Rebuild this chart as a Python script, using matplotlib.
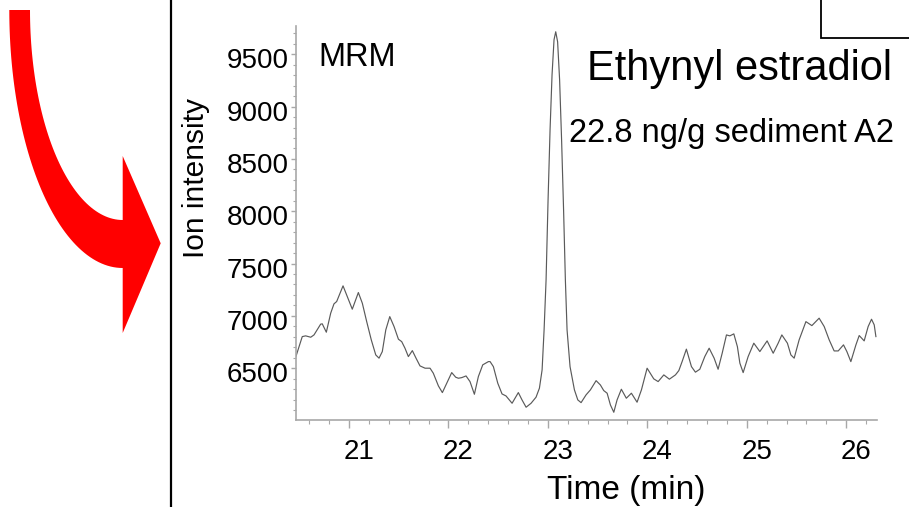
"""Recreate MRM chromatogram for ethynyl estradiol."""

import numpy as np
import matplotlib

matplotlib.use("Agg")
import matplotlib.pyplot as plt
from matplotlib.patches import Polygon, Rectangle
from matplotlib.ticker import MultipleLocator
from matplotlib.transforms import ScaledTranslation

# retention time (min) and ion intensity
time_min = [
    20.464, 20.530, 20.564, 20.615, 20.648, 20.715, 20.731, 20.772, 20.816, 20.849,
    20.876, 20.940, 20.983, 21.033, 21.094, 21.134, 21.178, 21.224, 21.269, 21.302,
    21.335, 21.370, 21.410, 21.453, 21.497, 21.530, 21.563, 21.597, 21.637, 21.674,
    21.714, 21.765, 21.815, 21.848, 21.899, 21.939, 21.983, 22.033, 22.073, 22.100,
    22.134, 22.177, 22.217, 22.261, 22.301, 22.345, 22.402, 22.419, 22.452, 22.496,
    22.539, 22.579, 22.640, 22.703, 22.740, 22.781, 22.831, 22.881, 22.915, 22.942,
    22.962, 22.982, 23.002, 23.022, 23.042, 23.062, 23.079, 23.098, 23.118, 23.138,
    23.158, 23.176, 23.193, 23.223, 23.267, 23.301, 23.334, 23.384, 23.428, 23.485,
    23.528, 23.562, 23.596, 23.629, 23.663, 23.696, 23.739, 23.789, 23.840, 23.897,
    23.941, 23.998, 24.065, 24.109, 24.166, 24.222, 24.283, 24.317, 24.350, 24.393,
    24.444, 24.484, 24.528, 24.578, 24.622, 24.672, 24.712, 24.753, 24.796, 24.830,
    24.870, 24.906, 24.931, 24.964, 25.014, 25.071, 25.132, 25.205, 25.266, 25.316,
    25.353, 25.409, 25.444, 25.477, 25.527, 25.595, 25.655, 25.728, 25.779, 25.829,
    25.879, 25.920, 25.973, 26.007, 26.047, 26.098, 26.131, 26.181, 26.221, 26.255,
    26.282, 26.299,
]
intensity = [
    6605, 6802, 6809, 6796, 6818, 6921, 6924, 6844, 7026, 7115,
    7137, 7287, 7184, 7064, 7223, 7121, 6945, 6771, 6627, 6596,
    6659, 6866, 6993, 6898, 6777, 6754, 6691, 6611, 6668, 6596,
    6522, 6500, 6500, 6452, 6331, 6267, 6357, 6458, 6414, 6404,
    6410, 6426, 6372, 6251, 6420, 6532, 6563, 6563, 6515, 6357,
    6254, 6235, 6165, 6267, 6197, 6127, 6165, 6223, 6309, 6484,
    6866, 7344, 8109, 8778, 9304, 9639, 9715, 9619, 9256, 8683,
    8013, 7344, 6866, 6515, 6293, 6197, 6171, 6245, 6293, 6381,
    6340, 6286, 6261, 6149, 6079, 6197, 6299, 6213, 6261, 6175,
    6293, 6500, 6398, 6372, 6436, 6395, 6436, 6477, 6563, 6682,
    6515, 6462, 6490, 6611, 6691, 6596, 6490, 6643, 6818, 6809,
    6828, 6706, 6548, 6458, 6611, 6739, 6659, 6761, 6643, 6739,
    6818, 6739, 6627, 6596, 6771, 6945, 6907, 6978, 6898, 6771,
    6665, 6665, 6723, 6659, 6563, 6723, 6812, 6761, 6898, 6968,
    6914, 6802,
]
x_ticks = [21, 22, 23, 24, 25, 26]
y_ticks = [6500, 7000, 7500, 8000, 8500, 9000, 9500]

FONT = ["Liberation Sans", "DejaVu Sans"]
AXIS_GREY = "#a8a8a8"

plt.rcParams.update({"font.family": FONT})

W, H = 909, 507
fig = plt.figure(figsize=(W / 100, H / 100), dpi=100)

# background layer in pixel coordinates for the decorations
deco = fig.add_axes([0, 0, 1, 1])
deco.set_xlim(0, W)
deco.set_ylim(H, 0)
deco.axis("off")

# curved red arrow
phi = np.linspace(0, np.pi / 2, 60)
cx, cy = 122.7, 10
outer = np.column_stack([cx - 113.4 * np.cos(phi), cy + 258 * np.sin(phi)])
inner = np.column_stack([cx - 92.7 * np.cos(phi), cy + 210 * np.sin(phi)])[::-1]
head = np.array([[122.7, 333], [160.7, 243.3], [122.7, 156]])
arrow = np.vstack([outer, head, inner])
deco.add_patch(Polygon(arrow, closed=True, facecolor="#ff0000", edgecolor="none"))

# divider line and corner box
deco.plot([171, 171], [0, H], color="black", lw=1.6)
deco.add_patch(Rectangle((821, -5), 100, 43, facecolor="none", edgecolor="black", lw=1.3))

# chromatogram
ax = fig.add_axes([296 / W, 1 - 420 / H, (877 - 296) / W, (420 - 26) / H])
ax.patch.set_alpha(0)
ax.plot(time_min, intensity, color="#5a5a5a", lw=0.85)
ax.set_xlim(20.467, 26.31)
ax.set_ylim(6005, 9770)
ax.set_xticks(x_ticks)
ax.set_yticks(y_ticks)
ax.xaxis.set_minor_locator(MultipleLocator(0.2))
ax.yaxis.set_minor_locator(MultipleLocator(100))
for side in ("top", "right"):
    ax.spines[side].set_visible(False)
for side in ("left", "bottom"):
    ax.spines[side].set_color(AXIS_GREY)
    ax.spines[side].set_linewidth(1.2)
ax.tick_params(axis="both", which="both", color=AXIS_GREY, labelsize=20, labelcolor="black")
ax.tick_params(axis="x", which="major", length=6, width=1.0, pad=8)
ax.tick_params(axis="x", which="minor", length=3, width=0.8)
ax.tick_params(axis="y", which="major", length=3.5, width=1.0, pad=2)
ax.tick_params(axis="y", which="minor", length=2.5, width=0.8)

shift_x = ScaledTranslation(0.10, 0, fig.dpi_scale_trans)
for lab in ax.get_xticklabels():
    lab.set_transform(lab.get_transform() + shift_x)
shift_y = ScaledTranslation(0, -0.04, fig.dpi_scale_trans)
for lab in ax.get_yticklabels():
    lab.set_transform(lab.get_transform() + shift_y)

# labels and annotations (pixel positions via the background layer)
deco.text(196, 178, "Ion intensity", rotation=90, ha="center", va="center", fontsize=21.5)
deco.text(626, 499, "Time (min)", ha="center", va="baseline", fontsize=24)
deco.text(318, 66, "MRM", ha="left", va="baseline", fontsize=23.5)
deco.text(587, 80, "Ethynyl estradiol", ha="left", va="baseline", fontsize=30)
deco.text(569, 142, "22.8 ng/g sediment A2", ha="left", va="baseline", fontsize=23.5)

fig.savefig("out.png", dpi=100)
